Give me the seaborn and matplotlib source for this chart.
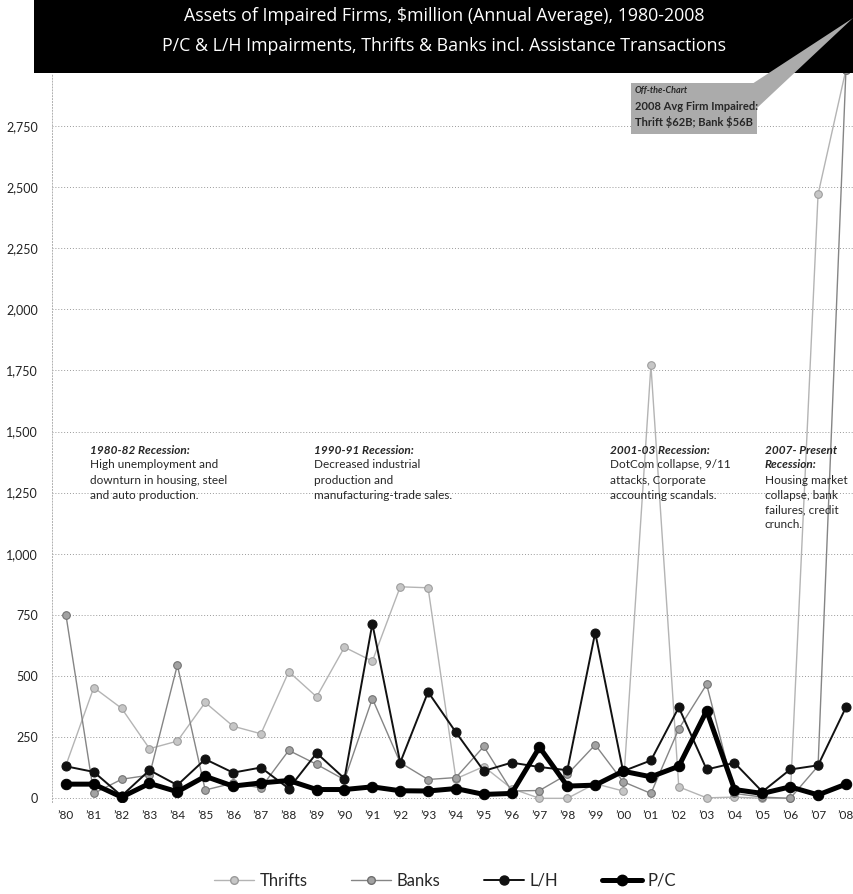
import numpy as np
import pandas as pd
import matplotlib
matplotlib.use("Agg")
import matplotlib.pyplot as plt
from matplotlib.patches import Rectangle, Polygon
from matplotlib.lines import Line2D
import seaborn as sns

# ---- data: assets of impaired firms, $ million (annual average) ----
years = [1980, 1981, 1982, 1983, 1984, 1985, 1986, 1987, 1988, 1989,
         1990, 1991, 1992, 1993, 1994, 1995, 1996, 1997, 1998, 1999,
         2000, 2001, 2002, 2003, 2004, 2005, 2006, 2007, 2008]
year_labels = ["’80", "’81", "’82", "’83", "’84", "’85", "’86", "’87", "’88", "’89",
               "’90", "’91", "’92", "’93", "’94", "’95", "’96", "’97", "’98", "’99",
               "’00", "’01", "’02", "’03", "’04", "’05", "’06", "’07", "’08"]
thrifts = [135, 453, 368, 203, 234, 392, 295, 264, 518, 415,
           618, 561, 865, 861, 80, 130, 40, 0, 0, 60,
           30, 1770, 47, 2, 5, 0, 0, 2470, 62000]
banks = [750, 20, 78, 95, 545, 34, 62, 43, 196, 139,
         76, 408, 146, 77, 85, 212, 30, 32, 98, 219,
         68, 20, 284, 466, 20, 5, 0, 132, 56000]
lh = [131, 108, 10, 115, 54, 160, 105, 126, 40, 185,
      81, 714, 146, 435, 270, 112, 146, 128, 115, 678,
      111, 155, 372, 118, 145, 27, 118, 135, 372]
pc = [58, 58, 5, 61, 27, 90, 50, 63, 73, 36,
      36, 47, 31, 30, 40, 16, 20, 209, 50, 54,
      111, 88, 131, 358, 36, 20, 47, 14, 58]
y_ticks = [0, 250, 500, 750, 1000, 1250, 1500, 1750, 2000, 2250, 2500, 2750]

series_names = ["Thrifts", "Banks", "L/H", "P/C"]
df = pd.DataFrame({"year": years, "Thrifts": thrifts, "Banks": banks,
                   "L/H": lh, "P/C": pc})

sns.set_style("white")
COND = ["Lato", "DejaVu Sans"]
HEAD = ["Open Sans", "DejaVu Sans"]
plt.rcParams["font.family"] = COND

W, H = 854, 894
fig = plt.figure(figsize=(W / 100, H / 100), dpi=100)


def fx(x):
    return x / W


def fy(y):
    return 1 - y / H


ax = fig.add_axes([fx(52), fy(802), fx(854) - fx(52), fy(73) - fy(802)])

styles = {
    "Thrifts": dict(color="#b4b4b4", linewidth=1.0, markersize=5.5,
                    markerfacecolor="#c6c6c6", markeredgecolor="#9a9a9a", zorder=2),
    "Banks": dict(color="#858585", linewidth=1.0, markersize=5.5,
                  markerfacecolor="#a2a2a2", markeredgecolor="#6e6e6e", zorder=3),
    "L/H": dict(color="#111111", linewidth=1.4, markersize=6.5,
                markerfacecolor="#111111", markeredgecolor="#111111", zorder=4),
    "P/C": dict(color="#000000", linewidth=3.6, markersize=7.5,
                markerfacecolor="#000000", markeredgecolor="#000000", zorder=5),
}

for name in series_names:
    sns.lineplot(data=df, x="year", y=name, ax=ax, marker="o",
                 label=name, legend=False, **styles[name])

# values above the top of the chart are squeezed into a thin band so the
# off-the-chart 2008 points still lead off the top edge
T, K = 2950.0, 0.0005


def fwd(v):
    v = np.asarray(v, dtype=float)
    return np.where(v <= T, v, T + (v - T) * K)


def inv(v):
    v = np.asarray(v, dtype=float)
    return np.where(v <= T, v, T + (v - T) / K)


ax.set_yscale("function", functions=(fwd, inv))
ax.set_ylim(-15, float(inv(2966)))
ax.set_xlim(1979.5, 2008.29)
ax.set_yticks(y_ticks)
ax.set_yticklabels([f"{v:,}" for v in y_ticks])
ax.set_xticks(years)
ax.set_xticklabels(year_labels)
ax.set_xlabel("")
ax.set_ylabel("")
ax.tick_params(axis="y", length=0, pad=10, labelsize=9, labelcolor="#222222")
ax.tick_params(axis="x", length=0, pad=6, labelsize=8.5, labelcolor="#222222")
ax.grid(axis="y", linestyle=(0, (1, 2)), color="#9a9a9a", linewidth=0.7)
ax.grid(axis="x", visible=False)
for s in ["top", "right", "bottom"]:
    ax.spines[s].set_visible(False)
ax.spines["left"].set_linestyle((0, (1, 2)))
ax.spines["left"].set_color("#b0b0b0")
ax.spines["left"].set_linewidth(0.7)

# ---- title bar ----
fig.add_artist(Rectangle((fx(34), fy(73)), 1 - fx(34), fy(0) - fy(73),
                         transform=fig.transFigure, facecolor="black",
                         edgecolor="none", zorder=10))
fig.text(fx(444), fy(16), "Assets of Impaired Firms, \\$million (Annual Average), 1980-2008",
         color="white", fontsize=12.8, family=HEAD, ha="center", va="center", zorder=11)
fig.text(fx(444), fy(46), "P/C & L/H Impairments, Thrifts & Banks incl. Assistance Transactions",
         color="white", fontsize=12.8, family=HEAD, ha="center", va="center", zorder=11)

# ---- off-the-chart callout ----
fig.add_artist(Polygon([(fx(752), fy(84)), (fx(757), fy(108)), (fx(853), fy(18))],
                       closed=True, transform=fig.transFigure, facecolor="#ababab",
                       edgecolor="none", zorder=12))
fig.add_artist(Rectangle((fx(631), fy(134)), fx(126), fy(83) - fy(134),
                         transform=fig.transFigure, facecolor="#ababab",
                         edgecolor="none", zorder=12))
fig.text(fx(635), fy(90), "Off-the-Chart", fontsize=6.5, fontweight="bold",
         fontstyle="italic", va="center", ha="left", zorder=13)
fig.text(fx(635), fy(106), "2008 Avg Firm Impaired:", fontsize=8,
         fontweight="bold", va="center", ha="left", zorder=13)
fig.text(fx(635), fy(122), "Thrift \\$62B; Bank \\$56B", fontsize=8,
         fontweight="bold", va="center", ha="left", zorder=13)

# ---- recession notes ----
notes = [
    (90, ["1980-82 Recession:"],
     ["High unemployment and", "downturn in housing, steel", "and auto production."]),
    (314, ["1990-91 Recession:"],
     ["Decreased industrial", "production and", "manufacturing-trade sales."]),
    (610, ["2001-03 Recession:"],
     ["DotCom collapse, 9/11", "attacks, Corporate", "accounting scandals."]),
    (765, ["2007- Present", "Recession:"],
     ["Housing market", "collapse, bank", "failures, credit", "crunch."]),
]
for x0, heads, body in notes:
    y0 = 450
    for h in heads:
        fig.text(fx(x0), fy(y0), h, fontsize=8.5, fontweight="bold",
                 fontstyle="italic", va="center", ha="left", zorder=6)
        y0 += 15
    for b in body:
        fig.text(fx(x0), fy(y0), b, fontsize=8.5, va="center", ha="left", zorder=6)
        y0 += 15

# ---- legend ----
handles = []
for name in series_names:
    st = styles[name]
    handles.append(Line2D([], [], color=st["color"], linewidth=st["linewidth"],
                          marker="o", markersize=st["markersize"],
                          markerfacecolor=st["markerfacecolor"],
                          markeredgecolor=st["markeredgecolor"]))
fig.legend(handles, series_names, loc="center", bbox_to_anchor=(fx(445), fy(881)),
           ncol=4, frameon=False, fontsize=12, handlelength=2.4,
           handletextpad=0.35, columnspacing=2.6)

fig.savefig("out.png", dpi=100)
